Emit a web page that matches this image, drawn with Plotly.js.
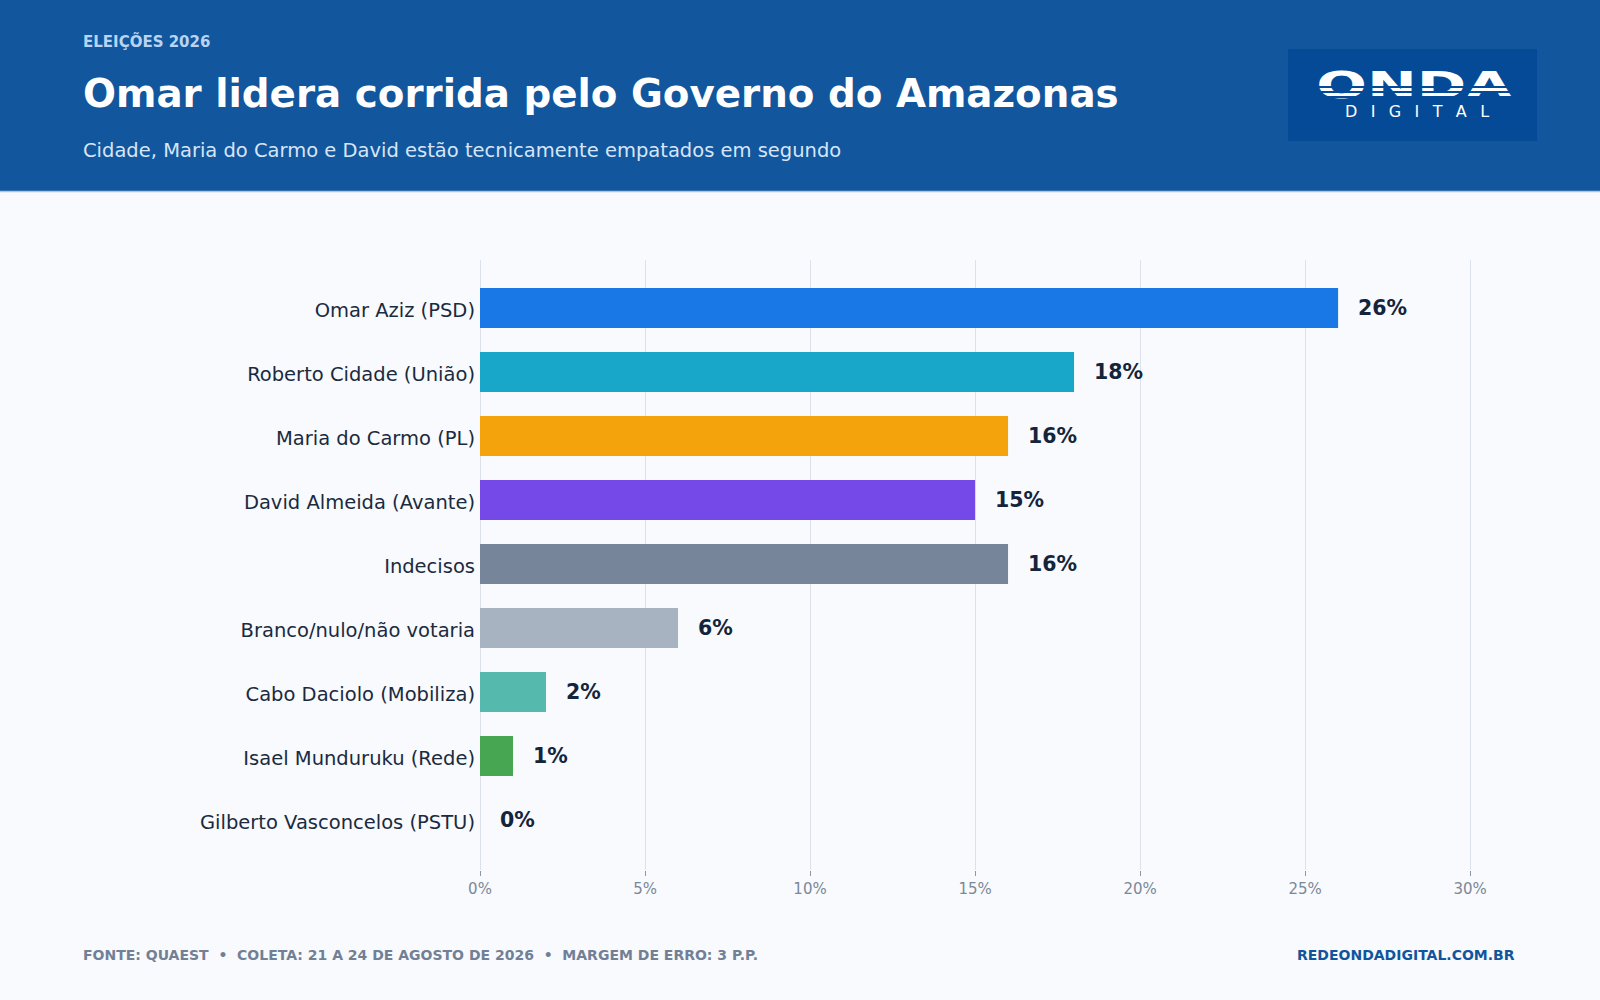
<!DOCTYPE html>
<html>
<head>
<meta charset="utf-8">
<script src="https://cdn.plot.ly/plotly-3.0.1.min.js"></script>
<style>
  body { margin: 0; background: #f8fafd; }
  #wrap { position: relative; width: 1600px; height: 1000px; }
  #myDiv { width: 1600px; height: 1000px; }
  /* stripes cut through the lower half of the logo letters */
  .stripe { position: absolute; left: 1312px; width: 206px; height: 2px; background: #054a96; pointer-events: none; }
</style>
</head>
<body>
<div id="wrap">
  <div id="myDiv"></div>
  <div class="stripe" style="top:86px"></div>
  <div class="stripe" style="top:91px"></div>
  <div class="stripe" style="top:95.5px"></div>
</div>
<script>
// poll data
var candidatos = ['Omar Aziz (PSD)', 'Roberto Cidade (União)', 'Maria do Carmo (PL)', 'David Almeida (Avante)',
                  'Indecisos', 'Branco/nulo/não votaria', 'Cabo Daciolo (Mobiliza)', 'Isael Munduruku (Rede)',
                  'Gilberto Vasconcelos (PSTU)'];
var percentuais = [26, 18, 16, 15, 16, 6, 2, 1, 0];
var cores = ['#1a78e6', '#18a6c9', '#f5a30d', '#7548e8', '#768599', '#a8b3c2', '#55b9ad', '#46a651', '#9aa5b5'];
var tickVals = [0, 5, 10, 15, 20, 25, 30];
var tickText = ['0%', '5%', '10%', '15%', '20%', '25%', '30%'];

var textoKicker = 'ELEIÇÕES 2026';
var textoTitulo = 'Omar lidera corrida pelo Governo do Amazonas';
var textoSub = 'Cidade, Maria do Carmo e David estão tecnicamente empatados em segundo';
var textoFonte = 'FONTE: QUAEST\u00a0\u00a0•\u00a0\u00a0COLETA: 21 A 24 DE AGOSTO DE 2026\u00a0\u00a0•\u00a0\u00a0MARGEM DE ERRO: 3 P.P.';
var textoSite = 'REDEONDADIGITAL.COM.BR';
var logoTopo = 'ONDA';
var logoBase = 'D\u2007\u2009I\u2007\u2009G\u2007\u2009I\u2007\u2009T\u2007\u2009A\u2007\u2009L';

// pixel -> paper helpers (plot area is 480..1480 x 260..870)
function px(x) { return (x - 480) / 1000; }
function py(y) { return (870 - y) / 610; }

var FONT = 'DejaVu Sans, sans-serif';

var trace = {
    type: 'bar',
    orientation: 'h',
    x: percentuais,
    y: candidatos,
    marker: {color: cores},
    hoverinfo: 'none'
};

// value labels next to each bar
var annotations = [];
for (var i = 0; i < candidatos.length; i++) {
    annotations.push({
        x: percentuais[i], y: candidatos[i], xref: 'x', yref: 'y',
        text: percentuais[i] + '%', showarrow: false,
        xanchor: 'left', yanchor: 'middle', xshift: 18,
        font: {family: FONT, size: 20.5, color: '#13243b', weight: 'bold'}
    });
}

// header + footer texts
annotations.push(
    {xref: 'paper', yref: 'paper', x: px(81), y: py(41), xanchor: 'left', yanchor: 'middle', showarrow: false,
     text: '<b>' + textoKicker + '</b>', font: {family: FONT, size: 15, color: '#b9d3f3'}},
    {xref: 'paper', yref: 'paper', x: px(81), y: py(93), xanchor: 'left', yanchor: 'middle', showarrow: false,
     text: '<b>' + textoTitulo + '</b>', font: {family: FONT, size: 38.8, color: '#ffffff'}},
    {xref: 'paper', yref: 'paper', x: px(81), y: py(150), xanchor: 'left', yanchor: 'middle', showarrow: false,
     text: textoSub, font: {family: FONT, size: 19.5, color: '#d7e5f7'}},
    {xref: 'paper', yref: 'paper', x: px(1415), y: py(85), xanchor: 'center', yanchor: 'middle', showarrow: false,
     text: '<b>' + logoTopo + '</b>', font: {family: FONT, size: 38, color: '#ffffff'}},
    {xref: 'paper', yref: 'paper', x: px(1417), y: py(112), xanchor: 'center', yanchor: 'middle', showarrow: false,
     text: logoBase, font: {family: FONT, size: 16, color: '#ffffff'}},
    {xref: 'paper', yref: 'paper', x: px(81), y: py(955), xanchor: 'left', yanchor: 'middle', showarrow: false,
     text: '<b>' + textoFonte + '</b>', font: {family: FONT, size: 14, color: '#718096'}},
    {xref: 'paper', yref: 'paper', x: px(1517), y: py(955), xanchor: 'right', yanchor: 'middle', showarrow: false,
     text: '<b>' + textoSite + '</b>', font: {family: FONT, size: 14, color: '#11559c'}}
);

var shapes = [
    // header band
    {type: 'rect', xref: 'paper', yref: 'paper', x0: px(0), x1: px(1600), y0: py(0), y1: py(191),
     fillcolor: '#12569d', line: {width: 0}, layer: 'below'},
    {type: 'line', xref: 'paper', yref: 'paper', x0: px(0), x1: px(1600), y0: py(191.5), y1: py(191.5),
     line: {color: '#a9c6ea', width: 1.5}, layer: 'below'},
    // logo box
    {type: 'rect', xref: 'paper', yref: 'paper', x0: px(1288), x1: px(1537), y0: py(49), y1: py(141),
     fillcolor: '#054a96', line: {width: 0}, layer: 'below'}
];

var layout = {
    width: 1600, height: 1000,
    margin: {l: 480, r: 120, t: 260, b: 130},
    paper_bgcolor: '#f8fafd',
    plot_bgcolor: '#f8fafd',
    showlegend: false,
    bargap: 0.375,
    font: {family: FONT},
    xaxis: {
        range: [0, 30.3],
        tickvals: tickVals, ticktext: tickText,
        showgrid: true, gridcolor: '#dbe2ec', gridwidth: 1,
        zeroline: true, zerolinecolor: '#dbe2ec', zerolinewidth: 1,
        showline: false,
        ticks: 'outside', ticklen: 5, tickcolor: '#8a97a8',
        tickfont: {family: FONT, size: 15, color: '#7b8899'},
        fixedrange: true
    },
    yaxis: {
        type: 'category',
        categoryorder: 'array', categoryarray: candidatos,
        range: [8.78, -0.75],
        showgrid: false, zeroline: false, showline: false,
        ticks: '', ticklabelstandoff: 4, ticklabelshift: -2,
        tickfont: {family: FONT, size: 19.5, color: '#1a2a40'},
        fixedrange: true
    },
    annotations: annotations,
    shapes: shapes
};

Plotly.newPlot('myDiv', [trace], layout, {displayModeBar: false, responsive: false}).then(function(gd) {
    // the logo word is a wide/extended face: stretch it sideways
    var nodes = gd.querySelectorAll('.annotation-text');
    for (var k = 0; k < nodes.length; k++) {
        if (nodes[k].textContent === logoTopo) {
            var bb = nodes[k].getBBox();
            var cx = bb.x + bb.width / 2;
            var sx = 197 / bb.width;
            nodes[k].setAttribute('transform', 'translate(' + cx + ',0) scale(' + sx + ',1) translate(' + (-cx) + ',0)');
        }
    }
});
</script>
</body>
</html>
